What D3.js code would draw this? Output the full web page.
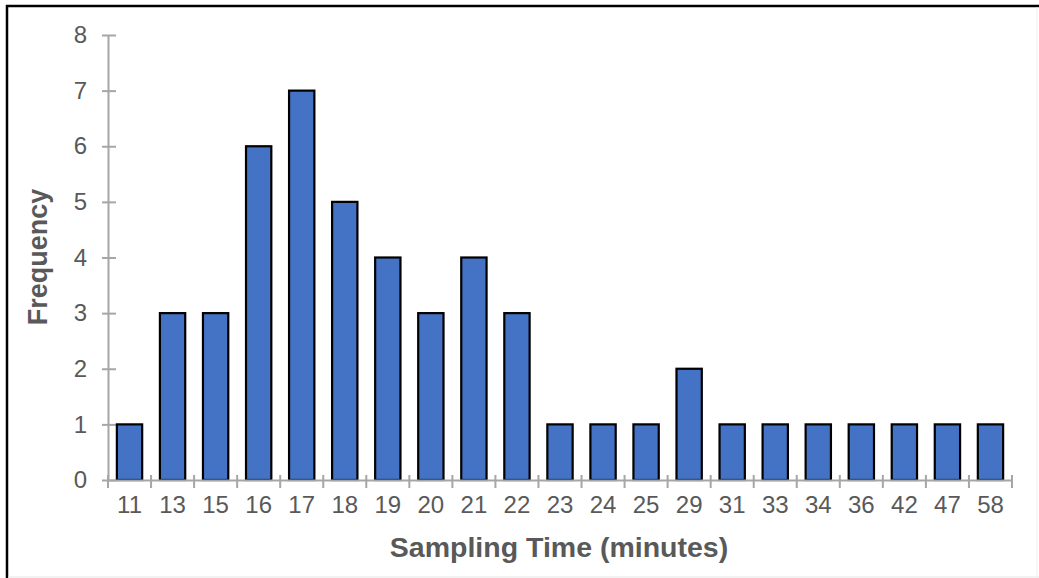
<!DOCTYPE html>
<html>
<head>
<meta charset="utf-8">
<script src="https://cdn.jsdelivr.net/npm/d3@7"></script>
<style>
html,body{margin:0;padding:0;background:#fff;}
svg{display:block;}
</style>
</head>
<body>
<svg id="chart" width="1039" height="578"></svg>
<script>
const categories = ["11","13","15","16","17","18","19","20","21","22","23","24","25","29","31","33","34","36","42","47","58"];
const frequency = [1,3,3,6,7,5,4,3,4,3,1,1,1,2,1,1,1,1,1,1,1];
const yTicks = [0,1,2,3,4,5,6,7,8];
const xTitle = "Sampling Time (minutes)";
const yTitle = "Frequency";

(function(){
const svg = d3.select("#chart");
const W = 1039, H = 578;
const mLeft = 108, mRight = 1012, mTop = 35, mBottom = 480;
const axisColor = "#a6a6a6", textColor = "#595959";
const font = "Arial, 'Liberation Sans', sans-serif";

// frame
svg.append("line").attr("x1",7).attr("x2",7).attr("y1",5).attr("y2",H).attr("stroke","#000").attr("stroke-width",2.5);
svg.append("line").attr("x1",6).attr("x2",W).attr("y1",6).attr("y2",6).attr("stroke","#000").attr("stroke-width",2.5);
svg.append("line").attr("x1",8).attr("x2",W).attr("y1",577).attr("y2",577).attr("stroke","#e6e6e6").attr("stroke-width",1);
svg.append("line").attr("x1",1037).attr("x2",1037).attr("y1",7).attr("y2",H).attr("stroke","#eeeeee").attr("stroke-width",1);

const x = d3.scaleBand().domain(categories).range([mLeft,mRight]).paddingInner(0.412).paddingOuter(0.206);
const y = d3.scaleLinear().domain([0,8]).range([mBottom,mTop]);

// y axis
const yAxis = svg.append("g").attr("transform",`translate(${mLeft},0)`)
  .call(d3.axisLeft(y).tickValues(yTicks).tickSize(0).tickPadding(21).tickFormat(d3.format("d")));
yAxis.select(".domain").attr("stroke",axisColor).attr("stroke-width",2);
yAxis.selectAll(".tick text").attr("fill",textColor).attr("font-size",24).attr("font-family",font);
yAxis.selectAll(".tick").append("line").attr("x1",-6).attr("x2",8).attr("stroke",axisColor).attr("stroke-width",2);

// bars
svg.append("g").selectAll("rect").data(categories).join("rect")
  .attr("x",d=>x(d))
  .attr("y",(d,i)=>y(frequency[i]))
  .attr("width",x.bandwidth())
  .attr("height",(d,i)=>mBottom - y(frequency[i]))
  .attr("fill","#4472C4")
  .attr("stroke","#000")
  .attr("stroke-width",2.2);

// x axis
const xAxis = svg.append("g").attr("transform",`translate(0,${mBottom})`)
  .call(d3.axisBottom(x).tickSize(0).tickPadding(16));
xAxis.select(".domain").attr("stroke",axisColor).attr("stroke-width",2);
xAxis.selectAll(".tick text").attr("fill",textColor).attr("font-size",24).attr("font-family",font);
const boundaries = categories.map(c=>x(c) - x.step()*x.paddingInner()/2).concat([mRight]);
xAxis.append("g").selectAll("line").data(boundaries).join("line")
  .attr("x1",d=>d).attr("x2",d=>d).attr("y1",-5).attr("y2",8)
  .attr("stroke",axisColor).attr("stroke-width",2);

// titles
svg.append("text").attr("x",559).attr("y",557).attr("text-anchor","middle")
  .attr("font-family",font).attr("font-weight","bold").attr("font-size",28.5).attr("fill",textColor).text(xTitle);
svg.append("text").attr("transform","translate(47,257) rotate(-90)").attr("text-anchor","middle")
  .attr("font-family",font).attr("font-weight","bold").attr("font-size",27).attr("fill",textColor).text(yTitle);
})();
</script>
</body>
</html>
